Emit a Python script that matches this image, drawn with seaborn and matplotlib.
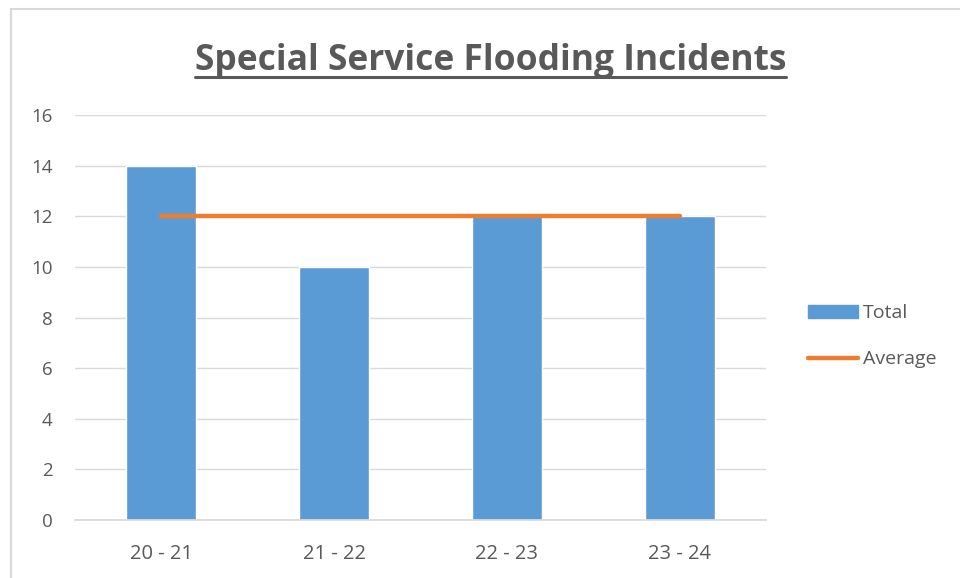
import matplotlib
matplotlib.use("Agg")
import matplotlib.pyplot as plt
import matplotlib.lines as mlines
import matplotlib.patches as mpatches
import seaborn as sns
import pandas as pd

# Data
periods = ["20 - 21", "21 - 22", "22 - 23", "23 - 24"]
total = [14, 10, 12, 12]
average = [12, 12, 12, 12]

BAR_COLOR = "#5B9BD5"
LINE_COLOR = "#ED7D31"
TEXT_COLOR = "#595959"

sns.set_theme(style="white")
plt.rcParams['font.family'] = ['Open Sans', 'DejaVu Sans']

df = pd.DataFrame({"Period": periods, "Total": total})

fig = plt.figure(figsize=(9.6, 5.78), dpi=100)
ax = fig.add_axes([0.078, 0.1003, 0.72, 0.7007])

sns.barplot(data=df, x="Period", y="Total", color=BAR_COLOR, width=0.405,
            saturation=1, ax=ax, zorder=2)
ax.plot(range(len(periods)), average, color=LINE_COLOR, linewidth=3.2,
        solid_capstyle="round", zorder=3)

ax.set_ylim(0, 16)
ax.set_xlim(-0.5, len(periods) - 0.5)
ax.set_yticks(range(0, 17, 2))
ax.yaxis.grid(True, color="#D9D9D9", linewidth=1)
ax.set_axisbelow(True)
for s in ["top", "right", "left"]:
    ax.spines[s].set_visible(False)
ax.spines["bottom"].set_color("#D9D9D9")
ax.set_xlabel("")
ax.set_ylabel("")
ax.tick_params(axis="both", length=0, labelsize=13.5, colors=TEXT_COLOR)
ax.tick_params(axis="x", labelsize=14.5, pad=17)
ax.tick_params(axis="y", pad=16)

# Legend outside the plot area
handles = [mpatches.Patch(color=BAR_COLOR, label="Total"),
           mlines.Line2D([], [], color=LINE_COLOR, linewidth=3.2,
                         solid_capstyle="round", label="Average")]
leg = fig.legend(handles=handles, loc="center left", bbox_to_anchor=(0.823, 0.418),
                 frameon=False, fontsize=14, labelcolor=TEXT_COLOR,
                 handlelength=2.6, handletextpad=0.25, labelspacing=1.45)

# Title with underline
title = fig.text(0.511, 0.894, "Special Service Flooding Incidents", ha="center",
                 va="center", fontsize=25.5, fontweight="bold", color=TEXT_COLOR)
fig.canvas.draw()
bb = title.get_window_extent().transformed(fig.transFigure.inverted())
fig.add_artist(mlines.Line2D([bb.x0, bb.x1], [bb.y0 + 0.004, bb.y0 + 0.004],
                             color=TEXT_COLOR, linewidth=2.2))

# Chart-area border (left and top edges visible)
fig.add_artist(mpatches.Rectangle((0.0115, -0.1), 1.2, 0.1 + 0.984, fill=False,
                                  edgecolor="#D9D9D9", linewidth=1.5,
                                  transform=fig.transFigure))

fig.savefig("out.png", dpi=100)
